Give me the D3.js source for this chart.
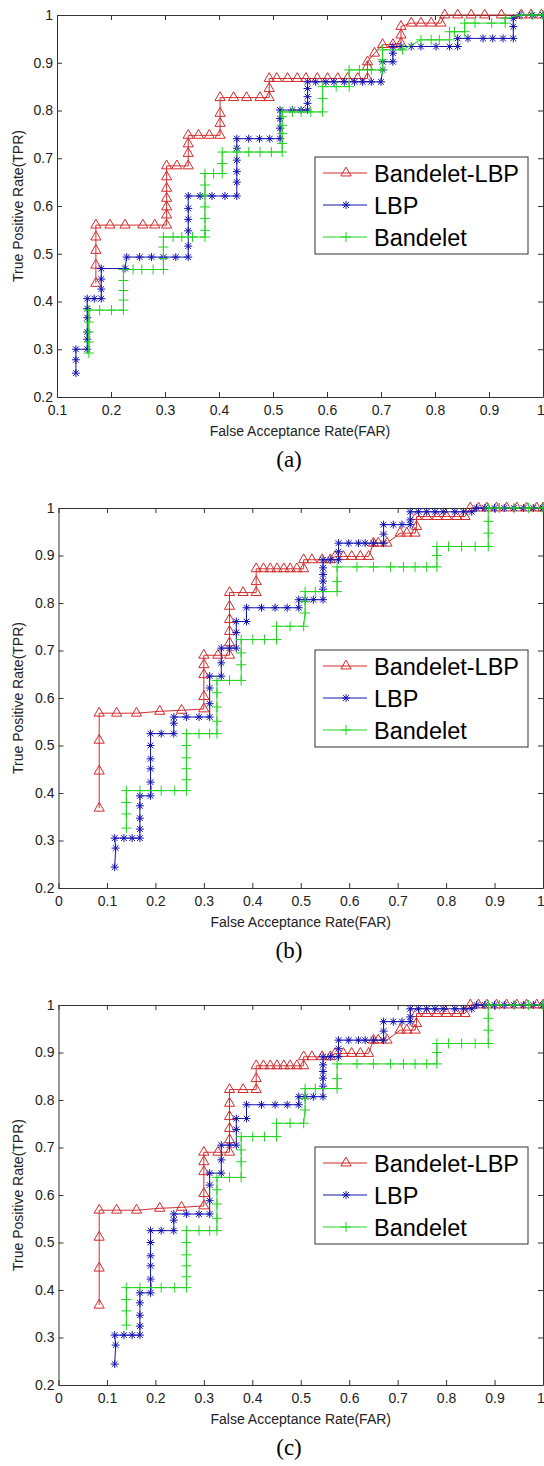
<!DOCTYPE html>
<html>
<head>
<meta charset="utf-8">
<script src="https://cdn.jsdelivr.net/npm/d3@7"></script>
<style>
    body { margin: 0; background: #fff; }
    svg { display: block; }
    .axis text { font-family: Arial, "Liberation Sans", sans-serif; font-size: 14px; fill: #222; }
    .axis path, .axis line { stroke: #333; }
</style>
</head>
<body>
<svg id="chart" width="544" height="1466"></svg>
<script>
// ---- panel (a) ----
var aBandeletLbpFar = [0.172,0.172,0.172,0.172,0.172,0.198,0.226,0.259,0.281,0.303,0.303,0.303,0.303,0.303,0.303,0.303,0.322,0.343,0.343,0.343,0.343,0.362,0.382,0.402,0.402,0.402,0.402,0.427,0.451,0.476,0.493,0.493,0.493,0.507,0.527,0.545,0.561,0.582,0.601,0.620,0.638,0.657,0.675,0.675,0.675,0.688,0.703,0.722,0.737,0.737,0.737,0.756,0.774,0.793,0.811,0.818,0.842,0.867,0.892,0.923,0.960,0.978,0.997];
var aBandeletLbpTpr = [0.438,0.476,0.507,0.535,0.560,0.560,0.560,0.560,0.560,0.560,0.581,0.598,0.616,0.637,0.661,0.684,0.684,0.684,0.710,0.730,0.748,0.748,0.748,0.748,0.773,0.794,0.827,0.827,0.827,0.827,0.827,0.846,0.867,0.867,0.867,0.867,0.867,0.867,0.867,0.867,0.867,0.867,0.867,0.892,0.902,0.920,0.938,0.938,0.941,0.958,0.976,0.983,0.983,0.983,0.983,1,1,1,1,1,1,1,1];

var aLbpFar = [0.135,0.135,0.135,0.156,0.156,0.156,0.156,0.156,0.156,0.169,0.182,0.182,0.182,0.182,0.226,0.229,0.253,0.275,0.297,0.320,0.343,0.343,0.343,0.343,0.343,0.343,0.365,0.387,0.411,0.433,0.433,0.433,0.433,0.433,0.433,0.455,0.475,0.494,0.513,0.513,0.513,0.513,0.536,0.552,0.564,0.564,0.564,0.564,0.564,0.579,0.598,0.613,0.632,0.651,0.666,0.682,0.700,0.703,0.703,0.722,0.722,0.722,0.737,0.756,0.774,0.802,0.827,0.842,0.842,0.861,0.889,0.907,0.926,0.945,0.945,0.945,0.957,0.980,1.000];
var aLbpTpr = [0.250,0.278,0.300,0.300,0.321,0.336,0.366,0.385,0.406,0.406,0.406,0.426,0.447,0.469,0.469,0.493,0.493,0.493,0.493,0.493,0.493,0.516,0.548,0.572,0.595,0.621,0.621,0.621,0.621,0.621,0.650,0.672,0.696,0.721,0.741,0.741,0.741,0.741,0.741,0.763,0.783,0.801,0.801,0.801,0.801,0.815,0.829,0.846,0.860,0.860,0.860,0.860,0.860,0.860,0.860,0.860,0.860,0.885,0.902,0.902,0.920,0.934,0.934,0.934,0.934,0.934,0.934,0.934,0.951,0.951,0.951,0.951,0.951,0.951,0.976,0.993,1,1,1];

var aBandeletFar = [0.159,0.159,0.159,0.159,0.159,0.179,0.201,0.223,0.223,0.223,0.223,0.223,0.241,0.257,0.278,0.297,0.297,0.297,0.297,0.315,0.331,0.351,0.374,0.374,0.374,0.374,0.374,0.374,0.374,0.390,0.406,0.406,0.406,0.433,0.455,0.476,0.497,0.517,0.517,0.517,0.517,0.517,0.517,0.536,0.552,0.570,0.592,0.592,0.592,0.617,0.641,0.641,0.660,0.682,0.703,0.703,0.703,0.740,0.774,0.793,0.808,0.827,0.827,0.836,0.855,0.855,0.874,0.905,0.930,0.930,0.960,0.980,1.000];
var aBandeletTpr = [0.292,0.315,0.336,0.357,0.382,0.382,0.382,0.382,0.403,0.423,0.444,0.467,0.467,0.467,0.467,0.467,0.490,0.514,0.535,0.535,0.535,0.535,0.535,0.549,0.574,0.598,0.623,0.644,0.668,0.668,0.668,0.689,0.713,0.713,0.713,0.713,0.713,0.713,0.731,0.752,0.769,0.787,0.797,0.797,0.797,0.797,0.797,0.825,0.850,0.850,0.850,0.885,0.885,0.885,0.885,0.906,0.927,0.927,0.948,0.948,0.948,0.948,0.965,0.965,0.965,0.983,0.983,0.983,0.983,0.993,1,1,1];

// ---- panels (b) and (c) ----
var bBandeletLbpFar = [0.084,0.084,0.084,0.084,0.120,0.161,0.209,0.254,0.300,0.300,0.300,0.300,0.300,0.329,0.353,0.353,0.353,0.353,0.353,0.353,0.381,0.408,0.408,0.408,0.423,0.437,0.451,0.465,0.478,0.492,0.506,0.506,0.523,0.544,0.561,0.571,0.588,0.605,0.623,0.640,0.650,0.660,0.678,0.705,0.719,0.736,0.739,0.739,0.760,0.781,0.801,0.822,0.839,0.850,0.867,0.884,0.904,0.925,0.946,0.966,0.987,1.000];
var bBandeletLbpTpr = [0.368,0.446,0.511,0.568,0.568,0.568,0.572,0.574,0.577,0.603,0.649,0.670,0.690,0.690,0.690,0.716,0.740,0.765,0.793,0.822,0.822,0.822,0.845,0.872,0.872,0.872,0.872,0.872,0.872,0.872,0.872,0.891,0.891,0.891,0.891,0.898,0.898,0.898,0.898,0.898,0.926,0.926,0.926,0.947,0.947,0.947,0.961,0.982,0.982,0.982,0.982,0.982,0.982,1,1,1,1,1,1,1,1,1];

var bLbpFar = [0.116,0.118,0.116,0.135,0.152,0.168,0.168,0.168,0.168,0.168,0.190,0.190,0.190,0.190,0.190,0.190,0.212,0.238,0.238,0.238,0.264,0.290,0.312,0.312,0.312,0.312,0.336,0.336,0.336,0.353,0.367,0.367,0.367,0.388,0.388,0.419,0.447,0.472,0.496,0.496,0.509,0.526,0.546,0.546,0.546,0.546,0.546,0.546,0.561,0.578,0.578,0.578,0.599,0.619,0.633,0.650,0.671,0.671,0.671,0.691,0.709,0.726,0.726,0.726,0.743,0.760,0.777,0.794,0.818,0.836,0.853,0.863,0.880,0.900,0.920,0.940,0.960,0.980,1.000];
var bLbpTpr = [0.244,0.284,0.305,0.305,0.305,0.305,0.324,0.347,0.373,0.394,0.394,0.423,0.451,0.472,0.500,0.525,0.525,0.525,0.547,0.560,0.560,0.560,0.560,0.588,0.621,0.646,0.646,0.674,0.705,0.705,0.705,0.738,0.761,0.761,0.790,0.790,0.790,0.790,0.790,0.807,0.807,0.807,0.807,0.829,0.846,0.860,0.874,0.891,0.891,0.891,0.908,0.926,0.926,0.926,0.926,0.926,0.926,0.945,0.965,0.965,0.965,0.965,0.975,0.992,0.992,0.992,0.992,0.992,0.992,0.992,0.992,1,1,1,1,1,1,1,1];

var bBandeletFar = [0.140,0.140,0.140,0.140,0.168,0.192,0.212,0.240,0.264,0.264,0.264,0.264,0.264,0.264,0.290,0.312,0.327,0.327,0.327,0.327,0.327,0.353,0.377,0.377,0.377,0.377,0.401,0.425,0.450,0.450,0.478,0.506,0.509,0.509,0.509,0.530,0.547,0.575,0.575,0.575,0.616,0.650,0.685,0.712,0.736,0.760,0.781,0.781,0.781,0.805,0.832,0.860,0.887,0.887,0.887,0.887,0.910,0.940,0.970,1.000];
var bBandeletTpr = [0.326,0.356,0.380,0.405,0.405,0.405,0.405,0.405,0.405,0.428,0.451,0.474,0.500,0.525,0.525,0.525,0.525,0.551,0.581,0.611,0.637,0.637,0.637,0.670,0.695,0.723,0.723,0.723,0.723,0.751,0.751,0.751,0.779,0.803,0.824,0.824,0.824,0.824,0.845,0.876,0.876,0.876,0.876,0.876,0.876,0.876,0.876,0.900,0.919,0.919,0.919,0.919,0.919,0.947,0.972,1,1,1,1,1];

var seriesNames = ['Bandelet-LBP', 'LBP', 'Bandelet'];
var seriesColors = ['#d42a2a', '#1414b4', '#22d422'];
var xTicksA = [0.1, 0.2, 0.3, 0.4, 0.5, 0.6, 0.7, 0.8, 0.9, 1];
var xTicksB = [0, 0.1, 0.2, 0.3, 0.4, 0.5, 0.6, 0.7, 0.8, 0.9, 1];
var yTicks = [0.2, 0.3, 0.4, 0.5, 0.6, 0.7, 0.8, 0.9, 1];

function zip(xs, ys) {
    return xs.map(function(x, i) { return [x, ys[i]]; });
}

var dataA = [zip(aBandeletLbpFar, aBandeletLbpTpr), zip(aLbpFar, aLbpTpr), zip(aBandeletFar, aBandeletTpr)];
var dataB = [zip(bBandeletLbpFar, bBandeletLbpTpr), zip(bLbpFar, bLbpTpr), zip(bBandeletFar, bBandeletTpr)];

var panels = [
    { caption: '(a)', top: 15, bottom: 397, left: 57, right: 543, xTicks: xTicksA, data: dataA },
    { caption: '(b)', top: 508, bottom: 888, left: 58.5, right: 543, xTicks: xTicksB, data: dataB },
    { caption: '(c)', top: 1005, bottom: 1385, left: 58.5, right: 543, xTicks: xTicksB, data: dataB }
];

// MATLAB style markers
var asterisk = {
    draw: function(ctx, size) {
        var r = Math.sqrt(size) / 2, d = r * 0.72;
        ctx.moveTo(-r, 0); ctx.lineTo(r, 0);
        ctx.moveTo(0, -r); ctx.lineTo(0, r);
        ctx.moveTo(-d, -d); ctx.lineTo(d, d);
        ctx.moveTo(-d, d); ctx.lineTo(d, -d);
    }
};
var plus = {
    draw: function(ctx, size) {
        var r = Math.sqrt(size) / 2;
        ctx.moveTo(-r, 0); ctx.lineTo(r, 0);
        ctx.moveTo(0, -r); ctx.lineTo(0, r);
    }
};
var markerSymbols = [d3.symbol(d3.symbolTriangle, 45), d3.symbol(asterisk, 64), d3.symbol(plus, 100)];

var svg = d3.select('#chart');
var fmt = function(d) { return (d === 0 || d === 1) ? String(d) : d.toFixed(1); };

panels.forEach(function(p) {
    var x = d3.scaleLinear().domain([p.xTicks[0], 1]).range([p.left, p.right]);
    var y = d3.scaleLinear().domain([0.2, 1]).range([p.bottom, p.top]);
    var g = svg.append('g');

    var bottomAxis = g.append('g').attr('class', 'axis').attr('transform', 'translate(0,' + p.bottom + ')')
        .call(d3.axisBottom(x).tickValues(p.xTicks).tickFormat(fmt).tickSizeInner(-5).tickSizeOuter(0).tickPadding(8));
    // the last label sits on the page edge, keep it inside
    bottomAxis.selectAll('.tick text').filter(function(d) { return d === 1; })
        .attr('text-anchor', 'end').attr('dx', '0.1em');
    g.append('g').attr('class', 'axis').attr('transform', 'translate(0,' + p.top + ')')
        .call(d3.axisTop(x).tickValues(p.xTicks).tickFormat('').tickSizeInner(-5).tickSizeOuter(0));
    g.append('g').attr('class', 'axis').attr('transform', 'translate(' + p.left + ',0)')
        .call(d3.axisLeft(y).tickValues(yTicks).tickFormat(fmt).tickSizeInner(-5).tickSizeOuter(0).tickPadding(4));
    g.append('g').attr('class', 'axis').attr('transform', 'translate(' + p.right + ',0)')
        .call(d3.axisRight(y).tickValues(yTicks).tickFormat('').tickSizeInner(-5).tickSizeOuter(0));

    var line = d3.line().x(function(d) { return x(d[0]); }).y(function(d) { return y(d[1]); });

    p.data.forEach(function(pts, i) {
        g.append('path').datum(pts).attr('d', line)
            .attr('fill', 'none').attr('stroke', seriesColors[i]).attr('stroke-width', 1);
        g.selectAll(null).data(pts).enter().append('path')
            .attr('d', markerSymbols[i])
            .attr('transform', function(d) { return 'translate(' + x(d[0]) + ',' + y(d[1]) + ')'; })
            .attr('fill', 'none').attr('stroke', seriesColors[i]).attr('stroke-width', 1);
    });

    // axis labels
    g.append('text').attr('x', (p.left + p.right) / 2).attr('y', p.bottom + 39)
        .attr('text-anchor', 'middle').style('font-family', 'Arial, "Liberation Sans", sans-serif')
        .style('font-size', '14px').attr('fill', '#222').text('False Acceptance Rate(FAR)');
    g.append('text').attr('transform', 'translate(23,' + ((p.top + p.bottom) / 2) + ') rotate(-90)')
        .attr('text-anchor', 'middle').style('font-family', 'Arial, "Liberation Sans", sans-serif')
        .style('font-size', '14px').attr('fill', '#222').text('True Positive Rate(TPR)');

    // caption
    g.append('text').attr('x', 289).attr('y', p.bottom + 70).attr('text-anchor', 'middle')
        .style('font-family', '"Liberation Serif", "Times New Roman", serif').style('font-size', '23px')
        .attr('fill', '#000').text(p.caption);

    // legend
    var lx = 315, ly = p.top + 142;
    var lg = g.append('g');
    lg.append('rect').attr('x', lx).attr('y', ly).attr('width', 213).attr('height', 97)
        .attr('fill', '#fff').attr('stroke', '#333').attr('stroke-width', 1);
    seriesNames.forEach(function(name, i) {
        var cy = ly + 16 + i * 32;
        lg.append('line').attr('x1', lx + 8).attr('x2', lx + 52).attr('y1', cy).attr('y2', cy)
            .attr('stroke', seriesColors[i]).attr('stroke-width', 1);
        lg.append('path').attr('d', markerSymbols[i]).attr('transform', 'translate(' + (lx + 31) + ',' + cy + ')')
            .attr('fill', 'none').attr('stroke', seriesColors[i]);
        lg.append('text').attr('x', lx + 59).attr('y', cy + 8.5)
            .style('font-family', 'Arial, "Liberation Sans", sans-serif').style('font-size', '23.5px')
            .attr('fill', '#000').text(name);
    });
});
</script>
</body>
</html>
